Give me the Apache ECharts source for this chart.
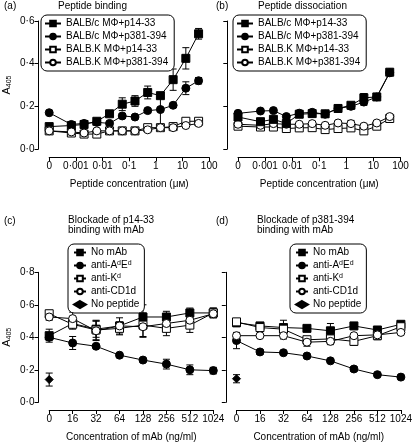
<!DOCTYPE html>
<html><head><meta charset="utf-8">
<script src="https://cdn.jsdelivr.net/npm/echarts@6/dist/echarts.min.js"></script>
<style>html,body{margin:0;padding:0;background:#fff}#c{width:415px;height:443px}</style>
</head><body><div id="c"></div>
<script>
// ---------- data ----------
const concentrations = [0, 0.000677, 0.00203, 0.0061, 0.0183, 0.0549, 0.165, 0.494, 1.48, 4.44, 13.3, 40];
const concTickLabels = ['0', '0·001', '0·01', '0·1', '1', '10', '100'];
const mAbCategories = ['0', '16', '32', '64', '128', '256', '512', '1024'];
const bindingNames = ['BALB/c MΦ+p14-33', 'BALB/c MΦ+p381-394', 'BALB.K MΦ+p14-33', 'BALB.K MΦ+p381-394'];
const blockNames = ['No mAb', 'anti-AdEd', 'anti-Kd', 'anti-CD1d', 'No peptide'];

// (a) Peptide binding
const bindBalbcP14 = [0.105, 0.11, 0.115, 0.13, 0.165, 0.21, 0.225, 0.265, 0.25, 0.325, 0.425, 0.54];
const bindBalbcP14Err = [0, 0, 0, 0.005, 0.01, 0.03, 0.025, 0.03, 0, 0.05, 0.05, 0.025];
const bindBalbcP381 = [0.17, 0.115, 0.12, 0.125, 0.12, 0.155, 0.15, 0.18, 0.185, 0.205, 0.285, 0.32];
const bindBalbcP381Err = [0, 0, 0, 0, 0, 0.01, 0, 0.01, 0.075, 0.01, 0.03, 0.015];
const bindBalbkP14 = [0.085, 0.075, 0.07, 0.07, 0.085, 0.085, 0.085, 0.1, 0.1, 0.105, 0.13, 0.13];
const bindBalbkP14Err = [0, 0, 0, 0.008, 0, 0, 0, 0.008, 0, 0.008, 0.01, 0.008];
const bindBalbkP381 = [0.085, 0.08, 0.075, 0.085, 0.085, 0.085, 0.085, 0.09, 0.1, 0.1, 0.11, 0.12];
const bindBalbkP381Err = [0, 0, 0, 0, 0, 0, 0, 0, 0, 0, 0, 0];

// (b) Peptide dissociation
const dissBalbcP14 = [0.15, 0.128, 0.139, 0.12, 0.163, 0.166, 0.165, 0.19, 0.205, 0.24, 0.244, 0.36];
const dissBalbcP14Err = [0.01, 0, 0, 0, 0, 0, 0, 0, 0.01, 0.02, 0, 0.01];
const dissBalbcP381 = [0.167, 0.178, 0.18, 0.152, 0.168, 0.172, 0.163, 0.19, 0.2, 0.22, 0.244, 0.357];
const dissBalbcP381Err = [0, 0, 0, 0, 0, 0, 0, 0, 0, 0.015, 0, 0];
const dissBalbkP14 = [0.107, 0.103, 0.103, 0.096, 0.099, 0.1, 0.091, 0.096, 0.099, 0.085, 0.107, 0.143];
const dissBalbkP14Err = [0, 0, 0, 0, 0, 0, 0, 0, 0, 0, 0, 0];
const dissBalbkP381 = [0.116, 0.111, 0.119, 0.116, 0.116, 0.119, 0.111, 0.122, 0.119, 0.107, 0.122, 0.152];
const dissBalbkP381Err = [0, 0, 0, 0, 0, 0, 0, 0, 0.015, 0, 0, 0.008];

// (c) Blockade of p14-33
const blkCNoMab = [0.41, 0.485, 0.45, 0.47, 0.525, 0.525, 0.55, 0.55];
const blkCNoMabErr = [0.04, 0, 0.05, 0, 0.075, 0.035, 0.03, 0.03];
const blkCAdEd = [0.4, 0.365, 0.345, 0.29, 0.26, 0.235, 0.2, 0.195];
const blkCAdEdErr = [0.02, 0.04, 0.01, 0.01, 0.01, 0.03, 0.03, 0.02];
const blkCKd = [0.545, 0.48, 0.445, 0.455, 0.475, 0.455, 0.475, 0.55];
const blkCKdErr = [0.02, 0.03, 0.06, 0.04, 0.075, 0.045, 0.045, 0.03];
const blkCCD1d = [0.525, 0.515, 0.44, 0.47, 0.465, 0.485, 0.505, 0.545];
const blkCCD1dErr = [0.02, 0.04, 0.06, 0.05, 0.06, 0.02, 0.03, 0.02];
const blkCNoPeptide = [0.14];
const blkCNoPeptideErr = [0.04];

// (d) Blockade of p381-394
const blkDNoMab = [0.49, 0.47, 0.46, 0.455, 0.44, 0.47, 0.445, 0.48];
const blkDNoMabErr = [0.025, 0.01, 0.045, 0.015, 0.045, 0.01, 0.01, 0.01];
const blkDAdEd = [0.38, 0.31, 0.305, 0.285, 0.255, 0.205, 0.17, 0.155];
const blkDAdEdErr = [0.05, 0.015, 0.005, 0.005, 0.005, 0.015, 0.005, 0.005];
const blkDKd = [0.495, 0.46, 0.45, 0.385, 0.39, 0.375, 0.41, 0.465];
const blkDKdErr = [0.02, 0.01, 0.01, 0.02, 0.02, 0.025, 0.025, 0.01];
const blkDCD1d = [0.41, 0.41, 0.41, 0.37, 0.375, 0.41, 0.415, 0.43];
const blkDCD1dErr = [0, 0, 0.02, 0.025, 0.02, 0, 0.01, 0];
const blkDNoPeptide = [0.145];
const blkDNoPeptideErr = [0.025];

// ---------- build ----------
const FONT = 'Liberation Sans, Arial, Helvetica, sans-serif';
const logX = c => (c === 0 ? -4 : Math.log10(c));
const dot = v => v.toFixed(1).replace('.', '·');

function pts(xs, ys, es) { return ys.map((y, i) => [xs[i], y, es[i]]); }
const concX = concentrations.map(logX);
const catX = mAbCategories.map((_, i) => i);

function lineSeries(name, idx, data, symbol, filled, size) {
  return {
    type: 'line', name: name, xAxisIndex: idx, yAxisIndex: idx, z: 3,
    data: data.map(p => [p[0], p[1]]),
    symbol: symbol, symbolSize: size || 8, showAllSymbol: true, clip: false,
    lineStyle: { color: '#000', width: 1 },
    itemStyle: { color: filled ? '#000' : '#fff', borderColor: '#000', borderWidth: 1, opacity: 1 },
    emphasis: { disabled: true }, animation: false
  };
}
function scatterSeries(name, idx, data, symbol, size) {
  return {
    type: 'scatter', name: name, xAxisIndex: idx, yAxisIndex: idx, z: 3,
    data: data.map(p => [p[0], p[1]]), symbol: symbol, symbolSize: size, clip: false,
    itemStyle: { color: '#000', borderColor: '#000', borderWidth: 1, opacity: 1 },
    emphasis: { disabled: true }, animation: false
  };
}
function errSeries(idx, data) {
  return {
    type: 'custom', xAxisIndex: idx, yAxisIndex: idx, z: 2, silent: true, clip: false,
    data: data.filter(p => p[2] > 0), animation: false,
    encode: { x: 0, y: 1 },
    renderItem: function (params, api) {
      const x = api.value(0), y = api.value(1), e = api.value(2);
      const t = api.coord([x, y + e]), b = api.coord([x, y - e]);
      const w = 3.5, st = { stroke: '#000', lineWidth: 1 };
      return { type: 'group', children: [
        { type: 'line', shape: { x1: t[0], y1: t[1], x2: b[0], y2: b[1] }, style: st },
        { type: 'line', shape: { x1: t[0] - w, y1: t[1], x2: t[0] + w, y2: t[1] }, style: st },
        { type: 'line', shape: { x1: b[0] - w, y1: b[1], x2: b[0] + w, y2: b[1] }, style: st }
      ] };
    }
  };
}

const axisLine = { show: true, onZero: false, lineStyle: { color: '#000', width: 1 } };
const axisTick = { show: true, length: 4, lineStyle: { color: '#000', width: 1 } };
const lbl = { color: '#000', fontSize: 10, fontFamily: FONT };

const grids = [
  { left: 46.7, top: 21, width: 162.5, height: 128 },
  { left: 238, top: 21, width: 162.5, height: 128 },
  { left: 46.7, top: 272.3, width: 166.6, height: 130 },
  { left: 236.5, top: 272.3, width: 166.6, height: 130 }
];

const yName = {
  name: '{a|A}{s|405}', nameLocation: 'middle', nameGap: 26,
  nameTextStyle: { color: '#000', fontFamily: FONT, rich: {
    a: { fontSize: 11, fontFamily: FONT, color: '#000' },
    s: { fontSize: 7, fontFamily: FONT, color: '#000', padding: [5, 0, 0, 0] } } }
};

function concXAxis(idx) {
  return { type: 'value', gridIndex: idx, min: -4, max: 2, interval: 1, offset: 8.3,
    axisLine, axisTick, splitLine: { show: false },
    axisLabel: Object.assign({ margin: 4, formatter: v => concTickLabels[Math.round(v) + 4] }, lbl),
    name: 'Peptide concentration (μᴍ)', nameLocation: 'middle', nameGap: 22,
    nameTextStyle: { color: '#000', fontSize: 10, fontFamily: FONT } };
}
function mabXAxis(idx) {
  return { type: 'category', gridIndex: idx, data: mAbCategories, boundaryGap: false, offset: 7.7,
    axisLine, axisTick: Object.assign({ alignWithLabel: true }, axisTick), splitLine: { show: false },
    axisLabel: Object.assign({ margin: 4, interval: 0 }, lbl),
    name: 'Concentration of mAb (ng/ml)', nameLocation: 'middle', nameGap: 22,
    nameTextStyle: { color: '#000', fontSize: 10, fontFamily: FONT } };
}
function yAxisDef(idx, max, labels) {
  const o = { type: 'value', gridIndex: idx, min: 0, max: max, interval: 0.2, offset: 10.7,
    axisLine, axisTick, splitLine: { show: false },
    axisLabel: Object.assign({ show: labels, margin: 4, formatter: dot }, lbl) };
  if (labels) Object.assign(o, yName);
  return o;
}

const series = [];
function addPanel(idx, xs, sets) {
  sets.forEach(s => {
    const d = pts(xs, s.y, s.e);
    series.push(errSeries(idx, d));
  });
  sets.forEach(s => {
    const d = pts(xs, s.y, s.e);
    if (s.scatter) series.push(scatterSeries(s.name, idx, d, s.symbol, 8));
    else series.push(lineSeries(s.name, idx, d, s.symbol, s.filled, s.size));
  });
}
addPanel(0, concX, [
  { name: bindingNames[0], y: bindBalbcP14, e: bindBalbcP14Err, symbol: 'rect', filled: true },
  { name: bindingNames[1], y: bindBalbcP381, e: bindBalbcP381Err, symbol: 'circle', filled: true },
  { name: bindingNames[2], y: bindBalbkP14, e: bindBalbkP14Err, symbol: 'rect', filled: false },
  { name: bindingNames[3], y: bindBalbkP381, e: bindBalbkP381Err, symbol: 'circle', filled: false }
]);
addPanel(1, concX, [
  { name: bindingNames[2], y: dissBalbkP14, e: dissBalbkP14Err, symbol: 'rect', filled: false },
  { name: bindingNames[3], y: dissBalbkP381, e: dissBalbkP381Err, symbol: 'circle', filled: false },
  { name: bindingNames[1], y: dissBalbcP381, e: dissBalbcP381Err, symbol: 'circle', filled: true },
  { name: bindingNames[0], y: dissBalbcP14, e: dissBalbcP14Err, symbol: 'rect', filled: true }
]);
addPanel(2, catX, [
  { name: blockNames[1], y: blkCAdEd, e: blkCAdEdErr, symbol: 'circle', filled: true },
  { name: blockNames[0], y: blkCNoMab, e: blkCNoMabErr, symbol: 'rect', filled: true },
  { name: blockNames[2], y: blkCKd, e: blkCKdErr, symbol: 'rect', filled: false },
  { name: blockNames[3], y: blkCCD1d, e: blkCCD1dErr, symbol: 'circle', filled: false },
  { name: blockNames[4], y: blkCNoPeptide, e: blkCNoPeptideErr, symbol: 'diamond', scatter: true }
]);
addPanel(3, catX, [
  { name: blockNames[1], y: blkDAdEd, e: blkDAdEdErr, symbol: 'circle', filled: true },
  { name: blockNames[0], y: blkDNoMab, e: blkDNoMabErr, symbol: 'rect', filled: true },
  { name: blockNames[2], y: blkDKd, e: blkDKdErr, symbol: 'rect', filled: false },
  { name: blockNames[3], y: blkDCD1d, e: blkDCD1dErr, symbol: 'circle', filled: false },
  { name: blockNames[4], y: blkDNoPeptide, e: blkDNoPeptideErr, symbol: 'diamond', scatter: true }
]);

const supFmt = name => {
  if (name === 'anti-AdEd') return '{n|anti-A}{s|d}{n|E}{s|d}';
  if (name === 'anti-Kd') return '{n|anti-K}{s|d}';
  return '{n|' + name + '}';
};
const legendRich = {
  n: { fontSize: 10, fontFamily: FONT, color: '#000', lineHeight: 11 },
  s: { fontSize: 7, fontFamily: FONT, color: '#000', lineHeight: 7, verticalAlign: 'top', padding: [0, 0, 4, 0] }
};
function legendDef(left, top, names, pad, iw, sup) {
  const l = { left: left, top: top, orient: 'vertical', data: names, selectedMode: false,
    itemWidth: iw, itemHeight: 7, itemGap: 2, padding: pad,
    borderColor: '#000', borderWidth: 1, borderRadius: 6, backgroundColor: '#fff',
    textStyle: { color: '#000', fontSize: 10, fontFamily: FONT, lineHeight: 11, rich: legendRich } };
  l.formatter = sup ? supFmt : (n => '{n|' + n + '}');
  return l;
}

function titleDef(text, left, top) {
  return { text: text, left: left, top: top, padding: 0,
    textStyle: { color: '#000', fontSize: 10, fontWeight: 'normal', fontFamily: FONT, lineHeight: 10 } };
}

const option = {
  backgroundColor: '#fff', animation: false,
  grid: grids,
  xAxis: [concXAxis(0), concXAxis(1), mabXAxis(2), mabXAxis(3)],
  yAxis: [yAxisDef(0, 0.6, true), yAxisDef(1, 0.6, false), yAxisDef(2, 0.8, true), yAxisDef(3, 0.8, false)],
  legend: [
    legendDef(41, 15, bindingNames, [3, 6, 3, 3], 16, false),
    legendDef(233, 15, bindingNames, [3, 6, 3, 3], 16, false),
    legendDef(68, 244, blockNames, [3, 5, 3, 5], 12, true),
    legendDef(290, 244, blockNames, [3, 5, 3, 5], 12, true)
  ],
  title: [
    titleDef('(a)', 4, 1), titleDef('Peptide binding', 58, 1),
    titleDef('(b)', 216, 1), titleDef('Peptide dissociation', 258, 1),
    titleDef('(c)', 4, 216), titleDef('Blockade of p14-33\nbinding with mAb', 68, 215),
    titleDef('(d)', 216, 216), titleDef('Blockade of p381-394\nbinding with mAb', 257, 215)
  ],
  series: series
};
const chart = echarts.init(document.getElementById('c'), null, { renderer: 'canvas' });
chart.setOption(option);
</script></body></html>
